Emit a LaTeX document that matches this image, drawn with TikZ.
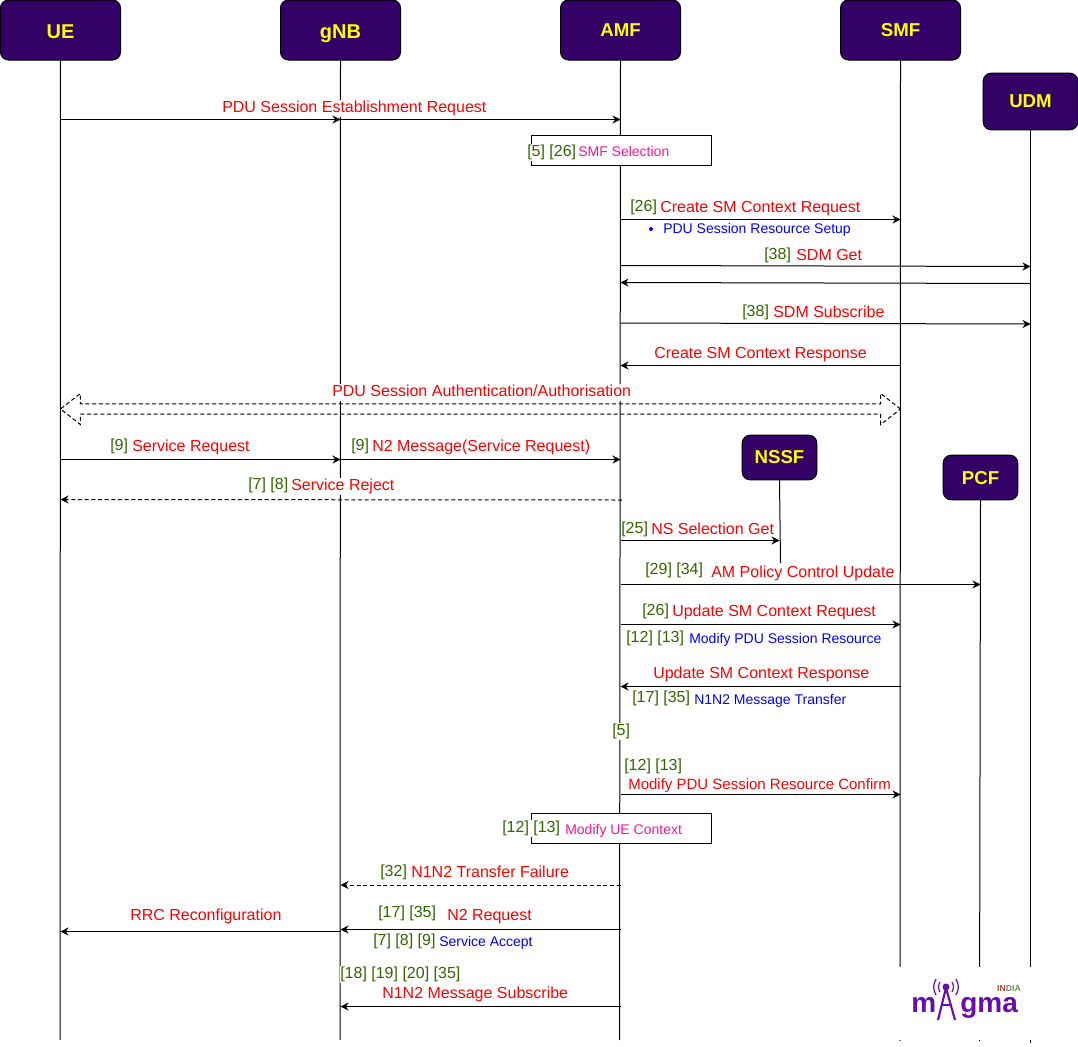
\documentclass[tikz,border=0pt]{standalone}
\usepackage{fontspec}
\setmainfont{Liberation Sans}
\usepackage{xcolor}
\usetikzlibrary{arrows.meta, positioning, shapes.arrows}
\definecolor{actorfill}{HTML}{330066}
\definecolor{actortext}{HTML}{FFFF00}
\definecolor{msgred}{HTML}{FF0000}
\definecolor{tagnum}{HTML}{336600}
\definecolor{noteblue}{HTML}{0000FF}
\definecolor{procpink}{HTML}{FF1493}
\definecolor{logopurple}{HTML}{6A0DAD}
\definecolor{logored}{HTML}{A5482A}
\definecolor{logogreen}{HTML}{4F9A3C}

\begin{document}
\begin{tikzpicture}[
  x=0.75pt, y=-0.75pt,
  actor/.style={draw=black, fill=actorfill, rounded corners=6pt, text=actortext, font=\fontsize{14}{16}\selectfont\bfseries, minimum height=45pt, minimum width=90pt, inner sep=0pt, outer sep=0pt, line width=0.75pt, text height=10pt, text depth=0pt},
  bigactor/.style={actor, font=\fontsize{15}{16}\selectfont\bfseries, text height=13pt},
  smallactor/.style={actor, minimum width=56pt, minimum height=33.5pt},
  lifeline/.style={draw=black, line width=0.75pt},
  call/.style={draw=black, line width=0.75pt, -{Stealth[length=6pt, width=6pt]}},
  reply/.style={call, dash pattern=on 3pt off 2pt},
  label/.style={anchor=west, yshift=-1.1pt, fill=white, inner xsep=0pt, inner ysep=0.8pt, text height=8.8pt, text depth=2.6pt},
  msgtext/.style={label, text=msgred, font=\fontsize{12}{14}\selectfont},
  tagtext/.style={label, text=tagnum, font=\fontsize{12}{14}\selectfont},
  notetext/.style={label, text=noteblue, font=\fontsize{10.5}{12}\selectfont},
  proctext/.style={label, text=procpink, font=\fontsize{10.5}{12}\selectfont},
  procbox/.style={draw=black, fill=white, minimum width=135pt, minimum height=22.5pt, inner sep=0pt, line width=0.75pt},
]
  \useasboundingbox (0,0) rectangle (1078,1046);

  % Actors
  \node[bigactor] (UE) at (60.5,30) {UE};
  \node[bigactor, right=120pt of UE] (gNB) {gNB};
  \node[actor, right=120pt of gNB] (AMF) {AMF};
  \node[actor, right=120pt of AMF] (SMF) {SMF};
  \node[actor, minimum width=71pt, minimum height=42.5pt, text height=8.5pt] (UDM) at (1030.5,101.5) {UDM};
  \node[smallactor, text height=8.5pt] (NSSF) at (779.5,457.5) {NSSF};
  \node[smallactor] (PCF) at (980.5,477.5) {PCF};

  % Lifelines
  \draw[lifeline] (UE.south) -- (60,1040);
  \draw[lifeline] (gNB.south) -- (340,1040);
  \draw[lifeline] (AMF.south) -- (619.5,1040);
  \draw[lifeline] (SMF.south) -- (900,1041);
  \draw[lifeline] (UDM.south) -- (1030.5,1043);
  \draw[lifeline] (NSSF.south) -- (780.5,563);
  \draw[lifeline] (PCF.south) -- (979.5,1041);

  % Logo backdrop
  \node[fill=white, minimum width=99pt, minimum height=54.75pt, inner sep=0pt] (logobox) at (965,1003.5) {};

  % Procedure boxes
  \node[procbox] (smfsel) at (621,150) {};
  \node[procbox] (uectx) at (621,828) {};

  % Labels
  \node[msgtext] (l1) at (222,107) {PDU Session Establishment Request};
  \node[tagtext] (t2) at (527,151) {[5] [26]};
  \node[proctext] (p2) at (578,151) {SMF Selection};
  \node[tagtext] (t3) at (630,206) {[26]};
  \node[msgtext] (l3) at (660,207) {Create SM Context Request};
  \node[circle, fill=noteblue, inner sep=0pt, minimum size=3pt] (bullet) at (651,229) {};
  \node[notetext] (n3) at (663,228) {PDU Session Resource Setup};
  \node[tagtext] (t4) at (764,254) {[38]};
  \node[msgtext] (l4) at (796,255) {SDM Get};
  \node[tagtext] (t5) at (742,311) {[38]};
  \node[msgtext] (l5) at (773,312) {SDM Subscribe};
  \node[msgtext] (l6) at (654,353) {Create SM Context Response};
  \node[msgtext] (l7) at (332,391) {PDU Session Authentication/Authorisation};
  \node[tagtext] (t8) at (110,445) {[9]};
  \node[msgtext] (l8) at (132,446) {Service Request};
  \node[tagtext] (t9) at (351,445) {[9]};
  \node[msgtext] (l9) at (372,446) {N2 Message(Service Request)};
  \node[tagtext] (t10) at (248,484) {[7] [8]};
  \node[msgtext] (l10) at (291,485) {Service Reject};
  \node[tagtext] (t11) at (621,528) {[25]};
  \node[msgtext] (l11) at (651,529) {NS Selection Get};
  \node[tagtext] (t12) at (645,569) {[29] [34]};
  \node[msgtext] (l12) at (711,572) {AM Policy Control Update};
  \node[tagtext] (t13) at (642,610) {[26]};
  \node[msgtext] (l13) at (672,611) {Update SM Context Request};
  \node[tagtext] (t14) at (626,637) {[12] [13]};
  \node[notetext] (n14) at (689,638) {Modify PDU Session Resource};
  \node[msgtext] (l15) at (653,673) {Update SM Context Response};
  \node[tagtext] (t16) at (632,697) {[17] [35]};
  \node[notetext] (n16) at (694,699) {N1N2 Message Transfer};
  \node[tagtext] (t17) at (612,730) {[5]};
  \node[tagtext] (t18) at (624,765) {[12] [13]};
  \node[msgtext, font=\fontsize{11.25}{13}\selectfont] (l18) at (628,784) {Modify PDU Session Resource Confirm};
  \node[tagtext] (t19) at (502,827) {[12] [13]};
  \node[proctext] (p19) at (565,829) {Modify UE Context};
  \node[tagtext] (t20) at (380,871) {[32]};
  \node[msgtext] (l20) at (411,872) {N1N2 Transfer Failure};
  \node[tagtext] (t21) at (378,912) {[17] [35]};
  \node[msgtext] (l21) at (447,915) {N2 Request};
  \node[msgtext] (l22) at (130,915) {RRC Reconfiguration};
  \node[tagtext] (t23) at (373,940) {[7] [8] [9]};
  \node[notetext] (n23) at (439,941) {Service Accept};
  \node[tagtext] (t24) at (340,973) {[18] [19] [20] [35]};
  \node[msgtext] (l24) at (382,993) {N1N2 Message Subscribe};

  % Rows
  \coordinate (r1) at (0,119.5);
  \coordinate (r2) at (0,219.5);
  \coordinate (r3) at (0,265.5);
  \coordinate (r3b) at (0,266.5);
  \coordinate (r4) at (0,283.5);
  \coordinate (r4b) at (0,282.5);
  \coordinate (r5) at (0,323);
  \coordinate (r5b) at (0,324);
  \coordinate (r6) at (0,365.5);
  \coordinate (r7) at (0,459.5);
  \coordinate (r8) at (0,499.5);
  \coordinate (r8s) at (622,500);
  \coordinate (r9) at (0,540.5);
  \coordinate (r10) at (0,584.5);
  \coordinate (r11) at (0,624.5);
  \coordinate (r12) at (0,686.5);
  \coordinate (r13) at (0,794.5);
  \coordinate (r14) at (0,885);
  \coordinate (r15) at (0,929.5);
  \coordinate (r15b) at (0,931.5);
  \coordinate (r16) at (0,1006.5);

  % Edges
  \draw[call] (UE |- r1) -- (gNB |- r1);
  \draw[call] (gNB |- r1) -- (AMF |- r1);
  \draw[call] (AMF |- r2) -- (SMF |- r2);
  \draw[call] (AMF |- r3) -- (UDM |- r3b);
  \draw[call] (UDM |- r4) -- (AMF |- r4b);
  \draw[call] (AMF |- r5) -- (UDM |- r5b);
  \draw[call] (SMF |- r6) -- (AMF |- r6);
  \draw[call] (UE |- r7) -- (gNB |- r7);
  \draw[call] (gNB |- r7) -- (AMF |- r7);
  \draw[reply] (r8s) -- (UE |- r8);
  \draw[call] (AMF |- r9) -- (NSSF |- r9);
  \draw[call] (AMF |- r10) -- (PCF |- r10);
  \draw[call] (AMF |- r11) -- (SMF |- r11);
  \draw[call] (SMF |- r12) -- (AMF |- r12);
  \draw[call] (AMF |- r13) -- (SMF |- r13);
  \draw[reply] (AMF |- r14) -- (gNB |- r14);
  \draw[call] (AMF |- r15) -- (gNB |- r15);
  \draw[call] (gNB |- r15b) -- (UE |- r15b);
  \draw[call] (AMF |- r16) -- (gNB |- r16);

  % Authentication block arrow
  \node[double arrow, draw=black, dash pattern=on 3pt off 2pt, line width=0.75pt, inner xsep=0pt, inner ysep=3.55pt, minimum height=630pt, minimum width=22.5pt, double arrow head extend=7.7pt, double arrow tip angle=76, double arrow head indent=0pt] (auth) at (480.5,409) {};

  % Logo
  \node[anchor=base west, inner sep=0pt, text=logopurple, font=\fontsize{21}{24}\selectfont\bfseries] (logom) at (911,1012) {m};
  \node[anchor=base west, inner sep=0pt, text=logopurple, font=\fontsize{21}{24}\selectfont\bfseries] (logogma) at (960,1012) {gma};
  \node[inner sep=0pt, font=\fontsize{6.5}{7}\selectfont\bfseries] (logoindia) at (1009,988.5) {\textcolor{logored}{IN}\textcolor{gray}{D}\textcolor{logogreen}{IA}};
  \draw[logopurple, line width=1.6pt] (938,1020) -- (946,988) -- (955,1020);
  \draw[logopurple, line width=1pt] (941,1005) -- (951,1005);
  \fill[logopurple] (946,987) circle (3.5);
  \foreach \r/\h in {6/5, 10/8} {
    \draw[logopurple, line width=0.9pt] (946-\r,987-\h) to[bend right=30] (946-\r,987+\h);
    \draw[logopurple, line width=0.9pt] (946+\r,987-\h) to[bend left=30] (946+\r,987+\h);
  }
\end{tikzpicture}
\end{document}
